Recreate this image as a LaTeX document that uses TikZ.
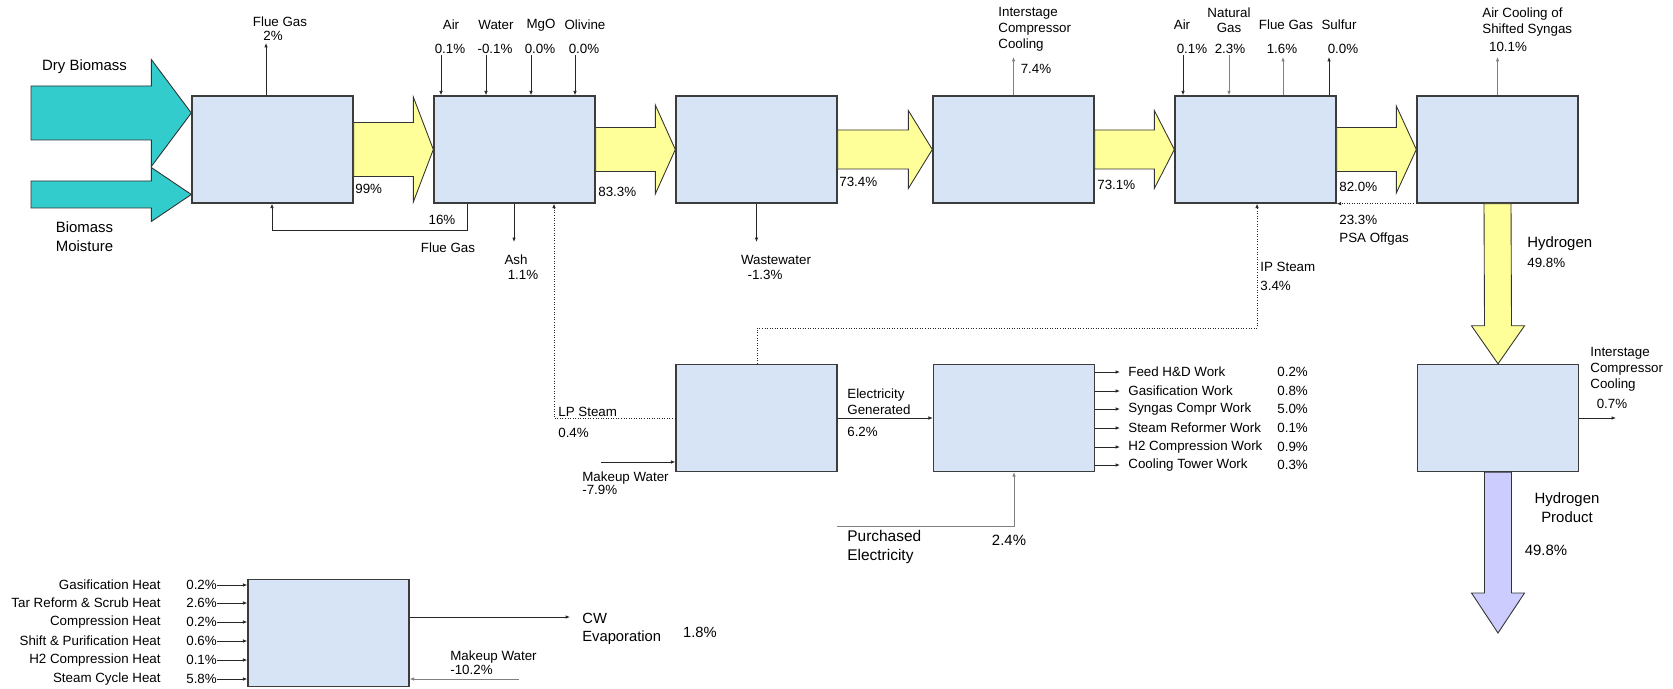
\documentclass[tikz,border=0pt]{standalone}
\usepackage{fontspec}
\setmainfont{Liberation Sans}
\usetikzlibrary{calc,arrows.meta}
\definecolor{boxblue}{RGB}{215,228,245}
\definecolor{boxedge}{RGB}{60,60,60}
\definecolor{feedteal}{RGB}{51,204,204}
\definecolor{syngasyellow}{RGB}{255,255,153}
\definecolor{productlilac}{RGB}{204,204,255}

% fat flow arrows: from, tip, body half width, head half width, head length, style
\newcommand{\hflow}[6]{%
  \draw[#6] ($(#1)+(0,-#3)$) -- ($(#2)+(-#5,-#3)$) -- ($(#2)+(-#5,-#4)$) -- (#2)
    -- ($(#2)+(-#5,#4)$) -- ($(#2)+(-#5,#3)$) -- ($(#1)+(0,#3)$) -- cycle;}
\newcommand{\vflow}[6]{%
  \draw[#6] ($(#1)+(-#3,0)$) -- ($(#2)+(-#3,-#5)$) -- ($(#2)+(-#4,-#5)$) -- (#2)
    -- ($(#2)+(#4,-#5)$) -- ($(#2)+(#3,-#5)$) -- ($(#1)+(#3,0)$) -- cycle;}

\tikzset{
  unit/.style={draw=boxedge, line width=0.8pt, fill=boxblue, minimum width=3.22cm,
    minimum height=2.14cm, inner sep=0pt},
  stream/.style={draw=black!85, line width=0.45pt, -{Latex[length=2.5pt,width=2pt]}},
  dimstream/.style={stream, draw=black!50},
  steamline/.style={stream, densely dotted},
  fatflow/.style={draw=black!80, line width=0.5pt, line join=miter},
  lbl/.style={font=\fontsize{7.6}{9.1}\selectfont, inner sep=0pt},
  biglbl/.style={font=\fontsize{8.5}{10.8}\selectfont, inner sep=0pt},
}

\begin{document}
\begin{tikzpicture}[x=0.02cm, y=-0.02cm]
\useasboundingbox (0,0) rectangle (1673,689);

% process units
\node[unit] (dryer) at (272.5,149.5) {};
\node[unit] (gasifier) at (514.5,149.5) {};
\node[unit] (scrubber) at (756.5,149.5) {};
\node[unit] (compressor) at (1013.5,149.5) {};
\node[unit] (reformer) at (1255.5,149.5) {};
\node[unit] (shift) at (1497.5,149.5) {};
\node[unit] (h2comp) at (1498,418) {};
\node[unit] (steamcycle) at (756.5,418) {};
\node[unit] (power) at (1014,418) {};
\node[unit] (coolingtower) at (328.5,633) {};

% biomass feeds
\coordinate (moisttail) at (31,194.5);
\coordinate (moisttip) at (dryer.west |- moisttail);
\coordinate (drytail) at (31,113);
\coordinate (drytip) at (dryer.west |- drytail);
\hflow{moisttail}{moisttip}{13.5}{27}{40}{fatflow, fill=feedteal}
\hflow{drytail}{drytip}{27}{53.5}{40}{fatflow, fill=feedteal}
\node[biglbl] (drylbl) at (84.5,67) {Dry Biomass};
\node[biglbl, align=center] (moistlbl) at (84.5,237) {Biomass\\Moisture};

% main syngas train
\hflow{dryer.east}{gasifier.west}{27}{52.5}{20}{fatflow, fill=syngasyellow}
\hflow{gasifier.east}{scrubber.west}{22}{44.5}{20}{fatflow, fill=syngasyellow}
\hflow{scrubber.east}{compressor.west}{19.5}{39}{24}{fatflow, fill=syngasyellow}
\hflow{compressor.east}{reformer.west}{19.5}{39}{20}{fatflow, fill=syngasyellow}
\hflow{reformer.east}{shift.west}{22}{43.5}{20}{fatflow, fill=syngasyellow}
\vflow{shift.south}{h2comp.north}{13.5}{26.5}{38}{fatflow, fill=syngasyellow}
\coordinate (h2out) at (1498,633);
\vflow{h2comp.south}{h2out}{13.5}{26.5}{40}{fatflow, fill=productlilac}

\node[lbl, anchor=west] (p99) at (355,189) {99\%};
\node[lbl, anchor=west] (p833) at (598,192) {83.3\%};
\node[lbl, anchor=west] (p734) at (839,182) {73.4\%};
\node[lbl, anchor=west] (p731) at (1097,185) {73.1\%};
\node[lbl, anchor=west] (p820) at (1339,187) {82.0\%};
\node[biglbl, anchor=west] (h2lbl) at (1527,244) {Hydrogen};
\node[lbl, anchor=west] (h2pct) at (1527,263) {49.8\%};
\node[biglbl, align=center] (prodlbl) at (1567,508) {Hydrogen\\Product};
\node[biglbl] (prodpct) at (1546,550) {49.8\%};

% dryer
\coordinate (fluetop) at (266,43);
\draw[stream] (dryer.north -| fluetop) -- (fluetop);
\node[lbl] (fluename) at (280,22) {Flue Gas};
\node[lbl] (fluepct) at (273,36) {2\%};
\coordinate (recyc) at (467,230);
\coordinate (recycend) at (272,230);
\draw[stream] (gasifier.south -| recyc) -- (recyc) -- (recycend) -- (dryer.south -| recycend);
\node[lbl] (recycpct) at (442,220) {16\%};
\node[lbl] (recycname) at (448,248) {Flue Gas};

% gasifier
\foreach \x/\what/\pct [count=\i] in {441/Air/0.1, 486/Water/-0.1, 531/MgO/0.0, 575/Olivine/0.0} {
  \coordinate (gin\i) at (\x,55);
  \draw[stream] (gin\i) -- (gasifier.north -| gin\i);
  \node[lbl] (ginname\i) at (\x+10,25) {\what};
  \node[lbl] (ginpct\i) at (\x+9,49) {\pct\%};
}
\coordinate (ash) at (514,242);
\draw[stream] (gasifier.south -| ash) -- (ash);
\node[lbl] (ashname) at (516,260) {Ash};
\node[lbl] (ashpct) at (523,275) {1.1\%};
\coordinate (lpcorner) at (554,418);
\draw[steamline] (steamcycle.west) -- (lpcorner) -- (gasifier.south -| lpcorner);
\node[lbl, anchor=west] (lpname) at (558,412) {LP Steam};
\node[lbl, anchor=west] (lppct) at (558,433) {0.4\%};

% scrubber
\coordinate (ww) at (756.5,242);
\draw[stream] (scrubber.south) -- (ww);
\node[lbl] (wwname) at (776,260) {Wastewater};
\node[lbl] (wwpct) at (765,275) {-1.3\%};

% compressor
\coordinate (icc) at (1013.5,57);
\draw[dimstream] (compressor.north) -- (icc);
\node[lbl, align=left, anchor=west] (iccname) at (998,29) {Interstage\\Compressor\\Cooling};
\node[lbl] (iccpct) at (1036,69) {7.4\%};

% reformer
\coordinate (rair) at (1183,55);
\coordinate (rng) at (1229,55);
\coordinate (rflue) at (1283,57);
\coordinate (rsulf) at (1329,57);
\draw[stream] (rair) -- (reformer.north -| rair);
\draw[dimstream] (rng) -- (reformer.north -| rng);
\draw[dimstream] (reformer.north -| rflue) -- (rflue);
\draw[stream] (reformer.north -| rsulf) -- (rsulf);
\node[lbl] (rairname) at (1182,25) {Air};
\node[lbl] (rairpct) at (1192,49) {0.1\%};
\node[lbl, align=center, font=\fontsize{7.6}{8.5}\selectfont] (rngname) at (1229,20) {Natural\\Gas};
\node[lbl] (rngpct) at (1230,49) {2.3\%};
\node[lbl] (rfluename) at (1286,25) {Flue Gas};
\node[lbl] (rfluepct) at (1282,49) {1.6\%};
\node[lbl] (rsulfname) at (1339,25) {Sulfur};
\node[lbl] (rsulfpct) at (1343,49) {0.0\%};
\draw[steamline] (shift.south west) -- (reformer.south east);
\node[lbl, anchor=west] (psapct) at (1339,220) {23.3\%};
\node[lbl, anchor=west] (psaname) at (1339,239) {PSA Offgas};

% shift
\coordinate (aircool) at (1497.5,57);
\draw[dimstream] (shift.north) -- (aircool);
\node[lbl, align=left, anchor=west, font=\fontsize{7.6}{9.6}\selectfont] (aircoolname) at (1482,22) {Air Cooling of\\Shifted Syngas};
\node[lbl] (aircoolpct) at (1508,47) {10.1\%};

% hydrogen compression
\coordinate (h2cool) at (1616,418);
\draw[stream] (h2comp.east) -- (h2cool);
\node[lbl, align=left, anchor=west] (h2coolname) at (1590,369) {Interstage\\Compressor\\Cooling};
\node[lbl] (h2coolpct) at (1612,404) {0.7\%};

% steam cycle
\coordinate (ipA) at (757,328);
\coordinate (ipB) at (1257,328);
\draw[steamline] (steamcycle.north -| ipA) -- (ipA) -- (ipB) -- (reformer.south -| ipB);
\node[lbl, anchor=west] (ipname) at (1260,267) {IP Steam};
\node[lbl, anchor=west] (ippct) at (1260,286) {3.4\%};
\coordinate (mkup) at (601,462);
\draw[stream] (mkup) -- (steamcycle.west |- mkup);
\node[lbl, align=left, anchor=west, font=\fontsize{7.6}{7.4}\selectfont] (mkupname) at (582,483.5) {Makeup Water\\-7.9\%};

% power
\draw[stream] (steamcycle.east) -- (power.west);
\node[lbl, align=left, anchor=west] (genname) at (847,402) {Electricity\\Generated};
\node[lbl, anchor=west] (genpct) at (847,432) {6.2\%};
\coordinate (purch) at (837,526);
\coordinate (purchcorner) at (power.south |- purch);
\draw[dimstream] (purch) -- (purchcorner) -- (power.south);
\node[lbl, align=left, anchor=west, font=\fontsize{8.8}{11.3}\selectfont] (purchname) at (847,547) {Purchased\\Electricity};
\node[biglbl] (purchpct) at (1009,540) {2.4\%};
\foreach \y/\what/\pct [count=\i] in {372/Feed H\&D Work/0.2, 391/Gasification Work/0.8,
    409/Syngas Compr Work/5.0, 428/Steam Reformer Work/0.1, 447/H2 Compression Work/0.9,
    465/Cooling Tower Work/0.3} {
  \coordinate (wk\i) at (1120,\y);
  \draw[stream] (power.east |- wk\i) -- (wk\i);
  \node[lbl, anchor=west] (wkname\i) at (1128,\y) {\what};
  \node[lbl, anchor=west] (wkpct\i) at (1277,\y) {\pct\%};
}

% cooling tower
\foreach \y/\what/\pct [count=\i] in {585/Gasification Heat/0.2, 603/Tar Reform \& Scrub Heat/2.6,
    622/Compression Heat/0.2, 641/Shift \& Purification Heat/0.6, 660/H2 Compression Heat/0.1,
    679/Steam Cycle Heat/5.8} {
  \coordinate (ht\i) at (217,\y);
  \draw[stream] (ht\i) -- (coolingtower.west |- ht\i);
  \node[lbl, anchor=east] (htname\i) at (161,\y) {\what};
  \node[lbl, anchor=west] (htpct\i) at (186,\y) {\pct\%};
}
\coordinate (cw) at (570,617);
\draw[stream] (coolingtower.east |- cw) -- (cw);
\node[biglbl, align=left, anchor=west, font=\fontsize{8.4}{10.2}\selectfont] (cwname) at (582,629) {CW\\Evaporation};
\node[biglbl, font=\fontsize{8.4}{10.2}\selectfont] (cwpct) at (700,632) {1.8\%};
\coordinate (mkup2) at (519,679);
\draw[dimstream] (mkup2) -- (coolingtower.east |- mkup2);
\node[lbl, align=left, anchor=west, font=\fontsize{7.6}{6.8}\selectfont] (mkup2name) at (450,663) {Makeup Water\\-10.2\%};
\end{tikzpicture}
\end{document}
